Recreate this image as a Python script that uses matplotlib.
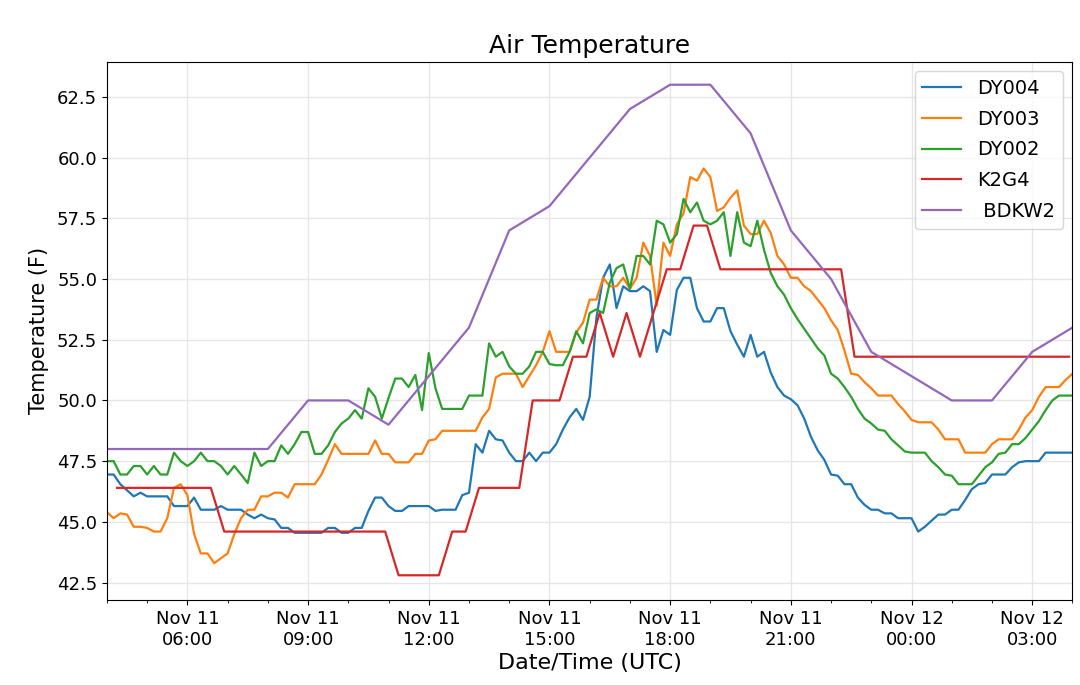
import pandas as pd
import matplotlib
matplotlib.use('Agg')
import matplotlib.pyplot as plt
import matplotlib.dates as mdates

# 10-minute stations (Nov 11 04:00 -> Nov 12 04:00)
dy004 = [46.95, 46.95, 46.55, 46.3, 46.05, 46.2, 46.05, 46.05, 46.05, 46.05,
         45.65, 45.65, 45.65, 46.0, 45.5, 45.5, 45.5, 45.65, 45.5, 45.5,
         45.5, 45.3, 45.15, 45.3, 45.15, 45.1, 44.75, 44.75, 44.55, 44.55,
         44.55, 44.55, 44.55, 44.75, 44.75, 44.55, 44.55, 44.75, 44.75, 45.45,
         46.0, 46.0, 45.65, 45.45, 45.45, 45.65, 45.65, 45.65, 45.65, 45.45,
         45.5, 45.5, 45.5, 46.1, 46.2, 48.2, 47.85, 48.75, 48.4, 48.35,
         47.85, 47.5, 47.5, 47.85, 47.5, 47.85, 47.85, 48.2, 48.8, 49.3,
         49.65, 49.2, 50.15, 53.4, 55.05, 55.6, 53.8, 54.7, 54.5, 54.5,
         54.7, 54.5, 52.0, 52.9, 52.7, 54.55, 55.05, 55.05, 53.8, 53.25,
         53.25, 53.8, 53.8, 52.85, 52.3, 51.8, 52.7, 51.8, 52.0, 51.15,
         50.55, 50.2, 50.05, 49.8, 49.25, 48.5, 47.95, 47.55, 46.95, 46.9,
         46.55, 46.55, 46.0, 45.7, 45.5, 45.5, 45.35, 45.35, 45.15, 45.15,
         45.15, 44.6, 44.8, 45.05, 45.3, 45.3, 45.5, 45.5, 45.9, 46.35,
         46.55, 46.6, 46.95, 46.95, 46.95, 47.25, 47.45, 47.5, 47.5, 47.5,
         47.85, 47.85, 47.85, 47.85, 47.85]

dy003 = [45.4, 45.15, 45.35, 45.3, 44.8, 44.8, 44.75, 44.6, 44.6, 45.15,
         46.4, 46.55, 46.1, 44.5, 43.7, 43.7, 43.3, 43.5, 43.7, 44.5,
         45.15, 45.5, 45.5, 46.05, 46.05, 46.2, 46.2, 46.0, 46.55, 46.55,
         46.55, 46.55, 46.95, 47.55, 48.2, 47.8, 47.8, 47.8, 47.8, 47.8,
         48.35, 47.8, 47.8, 47.45, 47.45, 47.45, 47.8, 47.8, 48.35, 48.4,
         48.75, 48.75, 48.75, 48.75, 48.75, 48.75, 49.3, 49.65, 50.95, 51.1,
         51.1, 51.1, 50.55, 51.0, 51.45, 52.0, 52.85, 52.0, 52.0, 52.0,
         52.8, 53.2, 54.15, 54.15, 55.05, 54.7, 54.7, 55.05, 54.6, 55.05,
         56.5, 55.95, 53.9, 56.5, 55.95, 57.25, 57.7, 59.2, 59.05, 59.55,
         59.2, 57.8, 57.95, 58.35, 58.65, 57.2, 56.85, 56.85, 57.4, 56.9,
         55.95, 55.6, 55.05, 55.05, 54.7, 54.5, 54.15, 53.8, 53.3, 52.9,
         52.05, 51.1, 51.05, 50.75, 50.5, 50.2, 50.2, 50.2, 49.85, 49.55,
         49.2, 49.1, 49.1, 49.1, 48.8, 48.4, 48.4, 48.4, 47.85, 47.85,
         47.85, 47.85, 48.2, 48.4, 48.4, 48.4, 48.8, 49.3, 49.6, 50.15,
         50.55, 50.55, 50.55, 50.85, 51.1]

dy002 = [47.5, 47.5, 46.95, 46.95, 47.3, 47.3, 46.95, 47.3, 46.95, 46.95,
         47.85, 47.5, 47.3, 47.5, 47.85, 47.5, 47.5, 47.3, 46.95, 47.3,
         46.95, 46.6, 47.85, 47.3, 47.5, 47.5, 48.15, 47.8, 48.2, 48.7,
         48.7, 47.8, 47.8, 48.15, 48.7, 49.05, 49.25, 49.6, 49.25, 50.5,
         50.15, 49.25, 50.1, 50.9, 50.9, 50.55, 51.05, 49.6, 51.95, 50.5,
         49.65, 49.65, 49.65, 49.65, 50.2, 50.2, 50.2, 52.35, 51.8, 52.0,
         51.4, 51.1, 51.1, 51.4, 52.0, 52.0, 51.5, 51.45, 51.45, 52.0,
         52.85, 52.35, 53.6, 53.75, 53.6, 54.85, 55.45, 55.6, 54.6, 55.95,
         55.95, 55.6, 57.4, 57.25, 56.5, 56.85, 58.3, 57.75, 58.15, 57.4,
         57.25, 57.4, 57.75, 55.95, 57.75, 56.5, 56.35, 57.4, 56.2, 55.25,
         54.7, 54.35, 53.8, 53.35, 52.95, 52.55, 52.15, 51.85, 51.1, 50.9,
         50.55, 50.15, 49.65, 49.25, 49.05, 48.8, 48.75, 48.4, 48.15, 47.9,
         47.85, 47.85, 47.85, 47.5, 47.25, 46.95, 46.9, 46.55, 46.55, 46.55,
         46.9, 47.25, 47.45, 47.8, 47.85, 48.2, 48.2, 48.45, 48.8, 49.15,
         49.6, 50.0, 50.2, 50.2, 50.2]

# K2G4 reports every 20 min (:15, :35, :55)
k2g4 = [46.4, 46.4, 46.4, 46.4, 46.4, 46.4, 46.4, 46.4,
        44.6, 44.6, 44.6, 44.6, 44.6, 44.6, 44.6, 44.6, 44.6, 44.6, 44.6, 44.6, 44.6,
        42.8, 42.8, 42.8, 42.8,
        44.6, 44.6,
        46.4, 46.4, 46.4, 46.4,
        50.0, 50.0, 50.0,
        51.8, 51.8, 53.6, 51.8, 53.6, 51.8, 53.6,
        55.4, 55.4, 57.2, 57.2,
        55.4, 55.4, 55.4, 55.4, 55.4, 55.4, 55.4, 55.4, 55.4, 55.4,
        51.8, 51.8, 51.8, 51.8, 51.8, 51.8, 51.8, 51.8, 51.8, 51.8,
        51.8, 51.8, 51.8, 51.8, 51.8, 51.8, 51.8]

# BDKW2 hourly
bdkw2 = [48, 48, 48, 48, 48, 50, 50, 49, 51, 53, 57, 58, 60, 62, 63, 63,
         61, 57, 55, 52, 51, 50, 50, 52, 53]

t_10min = pd.date_range('2019-11-11 04:00', periods=len(dy004), freq='10min')
t_20min = pd.date_range('2019-11-11 04:15', periods=len(k2g4), freq='20min')
t_hour = pd.date_range('2019-11-11 04:00', periods=len(bdkw2), freq='h')

fig = plt.figure(figsize=(10.8, 6.85), dpi=100)
ax = fig.add_axes([0.099, 0.124, 0.894, 0.786])

ax.plot(t_10min, dy004, color='#1f77b4', lw=1.6, label='DY004')
ax.plot(t_10min, dy003, color='#ff7f0e', lw=1.6, label='DY003')
ax.plot(t_10min, dy002, color='#2ca02c', lw=1.6, label='DY002')
ax.plot(t_20min, k2g4, color='#d62728', lw=1.6, label='K2G4')
ax.plot(t_hour, bdkw2, color='#9467bd', lw=1.6, label=' BDKW2')

ax.set_xlim(t_10min[0], t_10min[-1])
ax.set_ylim(41.78, 63.95)
ax.set_yticks([42.5, 45.0, 47.5, 50.0, 52.5, 55.0, 57.5, 60.0, 62.5])

ax.xaxis.set_major_locator(mdates.HourLocator(byhour=range(0, 24, 3)))
ax.xaxis.set_minor_locator(mdates.HourLocator())
ax.xaxis.set_major_formatter(mdates.DateFormatter('%b %d\n%H:%M'))

ax.grid(True, color='#e6e6e6', lw=1.0)
ax.set_axisbelow(True)
ax.tick_params(axis='both', labelsize=13)

ax.set_title('Air Temperature', fontsize=18)
ax.set_xlabel('Date/Time (UTC)', fontsize=16, labelpad=3)
ax.set_ylabel('Temperature (F)', fontsize=15, labelpad=6)
ax.legend(loc='upper right', fontsize=14, labelspacing=0.6)

fig.savefig('out.png', dpi=100)
